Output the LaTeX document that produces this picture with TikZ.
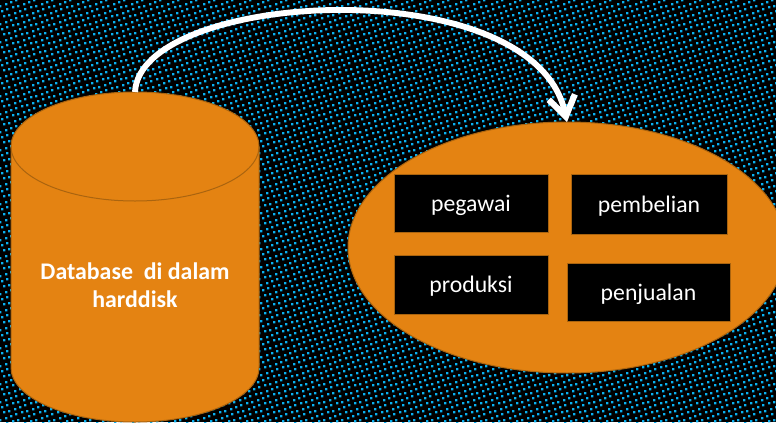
\documentclass[tikz,border=0pt]{standalone}
\usepackage{fontspec}
\setmainfont{Carlito}
\usetikzlibrary{arrows.meta,shapes.geometric}
\definecolor{dotblue}{RGB}{10,176,240}
\definecolor{tankorange}{RGB}{228,131,18}
\definecolor{tankedge}{RGB}{170,100,15}
\tikzset{
  every picture/.style={line width=0.75pt},
  orangeshape/.style={draw=tankedge,fill=tankorange,inner sep=0pt,outer sep=0pt},
  tablebox/.style={draw=tankedge,fill=black,text=white,inner sep=0pt,outer sep=0pt,text height=13pt,text depth=1pt,font=\fontsize{17.8}{20}\selectfont},
  flowarrow/.style={draw=white,line width=4.4pt,-{Straight Barb[length=15pt,width=20pt,line width=4.6pt]}}
}

\begin{document}
\begin{tikzpicture}[x=0.75pt,y=0.75pt,yscale=-1,xscale=1]
\useasboundingbox (0,0) rectangle (776,422);
\clip (0,0) rectangle (776,422);

%Shape: Background
\fill[black] (0,0) rectangle (776,422);
%Shape: Dots
\foreach \tx in {-18,0,...,774} {
  \foreach \ty in {-18,0,...,414} {
    \fill[dotblue] \foreach \dx/\dy in {0/0,5/16,11/14,16/13,4/11,9/9,14/7,2/5,7/4,13/2} {
      (\tx+10+\dx,\ty+1+\dy) rectangle ++(2.3,2.3)
    };
  }
}

%Shape: Can
\draw[orangeshape] (11,146.5) arc[start angle=180,end angle=0,x radius=124,y radius=-54.5] -- (259,367.5) arc[start angle=0,end angle=-180,x radius=124,y radius=-54.5] -- cycle;
\draw[draw=tankedge] (11,146.5) arc[start angle=180,end angle=360,x radius=124,y radius=-54.5];
\coordinate (harddisk) at (135,92);

%Shape: Ellipse
\node[orangeshape,shape=ellipse,minimum width=438*0.75pt,minimum height=251*0.75pt] (memory) at (567,247.5) {};

%Shape: Rectangle
\node[tablebox,minimum width=154*0.75pt,minimum height=58*0.75pt] (pegawai) at (471,203) {pegawai};
\node[tablebox,minimum width=156*0.75pt,minimum height=60*0.75pt] (pembelian) at (649,204) {pembelian};
\node[tablebox,minimum width=154*0.75pt,minimum height=59*0.75pt] (produksi) at (471,284.5) {produksi};
\node[tablebox,minimum width=163*0.75pt,minimum height=58*0.75pt] (penjualan) at (648.5,292) {penjualan};

% Text Node
\node[align=center,text=white,font=\bfseries\fontsize{17.9}{21}\selectfont,inner sep=0pt] (harddisktext) at (135,285) {Database~~di dalam\\harddisk};

%Curve Lines
\draw[flowarrow] (harddisk) .. controls (140,-10) and (535,-32) .. (memory.north);

\end{tikzpicture}
\end{document}
